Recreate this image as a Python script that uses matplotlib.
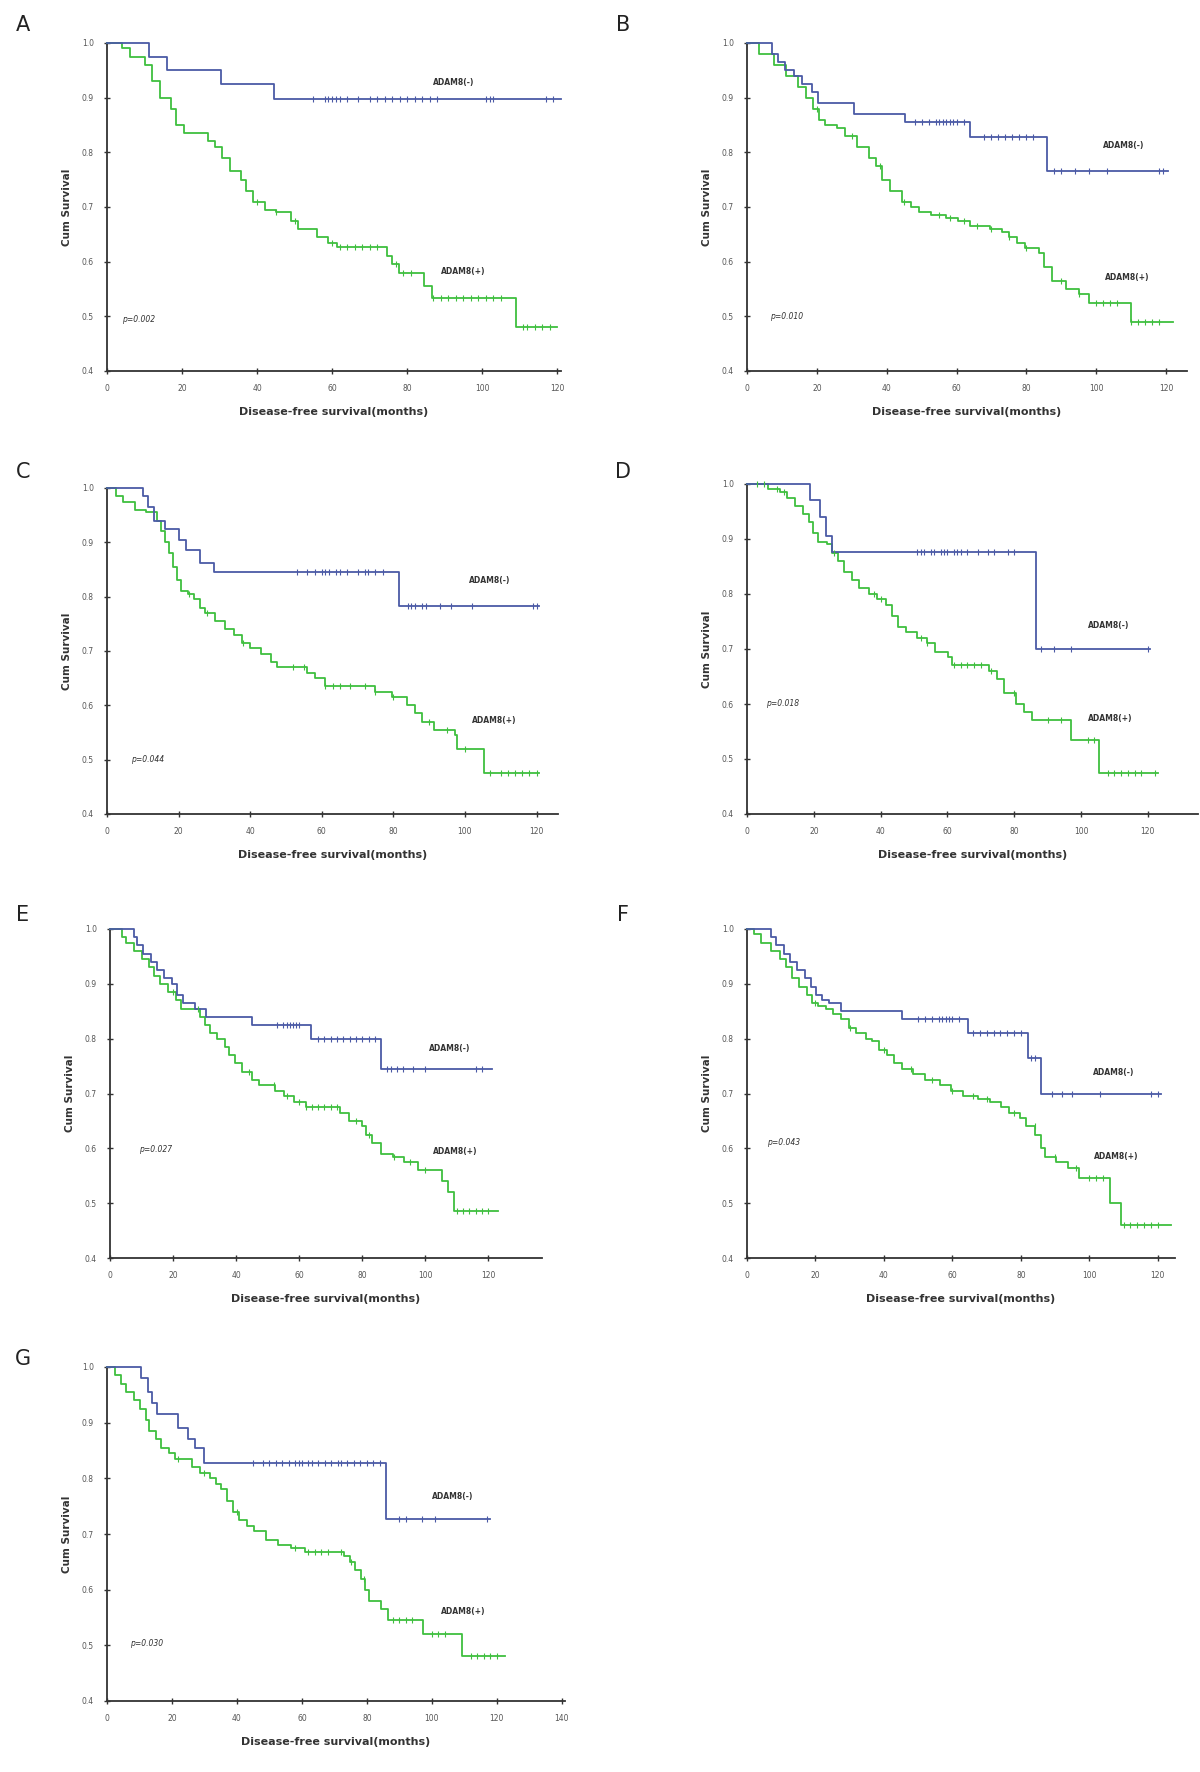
import numpy as np
import matplotlib
matplotlib.use('Agg')
import matplotlib.pyplot as plt

# ---------------- data ----------------
# ADAM8(-) = neg (blue), ADAM8(+) = pos (green); step times in months, survival after step
A_neg_t = [11.3, 16, 30.4, 44.6]
A_neg_s = [0.975, 0.95, 0.925, 0.897]
A_neg_end = 121
A_neg_c = [55, 58, 59, 60, 61, 62, 64, 67, 70, 72, 74, 76, 78, 80, 82, 84, 86, 88, 101, 102, 103, 117, 119]
A_pos_t = [4, 6, 10, 12, 14, 17, 18.4, 20.5, 27, 28.7, 30.7, 32.8, 35.8, 37, 39, 42, 45, 49, 51, 56,
           59, 61.4, 74.7, 76, 77.8, 84.4, 86.5, 109]
A_pos_s = [0.99, 0.975, 0.96, 0.93, 0.9, 0.88, 0.85, 0.835, 0.82, 0.81, 0.79, 0.765, 0.75, 0.73, 0.71,
           0.695, 0.69, 0.675, 0.66, 0.645, 0.635, 0.627, 0.61, 0.595, 0.58, 0.555, 0.533, 0.48]
A_pos_end = 120
A_pos_c = [40, 45, 50, 60, 62, 64, 66, 68, 70, 72, 77, 79, 81, 87, 89, 91, 93, 95, 97, 99, 101, 103,
           105, 111, 112, 114, 116, 118]

B_neg_t = [7.3, 9, 11, 13.5, 15.7, 18.5, 20.2, 30.5, 45.2, 64, 86]
B_neg_s = [0.98, 0.965, 0.95, 0.94, 0.925, 0.91, 0.89, 0.87, 0.855, 0.828, 0.765]
B_neg_end = 120.5
B_neg_c = [48, 50, 52, 54, 55, 56, 57, 58, 59, 60, 62, 68, 70, 72, 74, 76, 78, 80, 82, 88, 90, 94, 98,
           103, 118, 119]
B_pos_t = [3.4, 7.8, 11.2, 14.6, 16.8, 19, 20.7, 22.4, 25.8, 28, 31.4, 34.8, 37, 38.7, 41, 44.3, 47,
           49.3, 52.7, 57, 60.5, 64, 69.5, 73, 75, 77.4, 79.6, 83.5, 85, 87.4, 91.4, 95, 98, 109.9]
B_pos_s = [0.98, 0.96, 0.94, 0.92, 0.9, 0.88, 0.86, 0.85, 0.845, 0.83, 0.81, 0.79, 0.775, 0.75, 0.73,
           0.71, 0.70, 0.69, 0.685, 0.68, 0.675, 0.665, 0.66, 0.655, 0.645, 0.635, 0.625, 0.615, 0.59,
           0.565, 0.55, 0.54, 0.525, 0.49]
B_pos_end = 122
B_pos_c = [20, 30, 38, 45, 55, 58, 62, 66, 70, 75, 80, 90, 95, 100, 102, 104, 106, 110, 112, 114, 116, 118]

C_neg_t = [10, 11.5, 13, 16.3, 20, 22, 26, 30, 81.7]
C_neg_s = [0.985, 0.965, 0.94, 0.925, 0.905, 0.885, 0.862, 0.845, 0.783]
C_neg_end = 120.8
C_neg_c = [53, 56, 58, 60, 61, 62, 64, 65, 67, 70, 72, 73, 75, 77, 84, 85, 86, 88, 89, 93, 96, 102, 119, 120]
C_pos_t = [2.4, 4.5, 7.7, 11, 14, 15.2, 16.3, 17.4, 18.4, 19.5, 20.6, 22.7, 24.3, 26, 27.5, 30.2, 33,
           35.6, 37.7, 40, 43, 45.8, 47.4, 56, 58, 60.8, 75, 79.5, 83.8, 86, 88, 91.3, 97.2, 97.7, 105.2]
C_pos_s = [0.985, 0.975, 0.96, 0.955, 0.94, 0.92, 0.9, 0.88, 0.855, 0.83, 0.81, 0.805, 0.795, 0.78,
           0.77, 0.755, 0.74, 0.73, 0.715, 0.705, 0.695, 0.68, 0.67, 0.66, 0.65, 0.635, 0.625, 0.615,
           0.6, 0.585, 0.57, 0.555, 0.545, 0.52, 0.475]
C_pos_end = 120.8
C_pos_c = [23, 28, 38, 52, 55, 61, 63, 65, 68, 72, 75, 80, 90, 95, 100, 107, 110, 112, 114, 116, 118, 120]

D_neg_t = [18.9, 22, 23.5, 25.5, 86.4]
D_neg_s = [0.97, 0.94, 0.905, 0.876, 0.70]
D_neg_end = 120.6
D_neg_c = [51, 52, 53, 55, 56, 58, 59, 60, 62, 63, 64, 66, 69, 72, 74, 78, 80, 88, 92, 97, 120]
D_pos_t = [6.4, 10, 12, 14.5, 16.8, 18.5, 19.7, 21.4, 23.8, 25.5, 27.2, 29, 31.3, 33.6, 36.5, 38.8,
           41.7, 43.5, 45.2, 47.5, 51, 54, 56.2, 60.3, 61.4, 72.5, 74.8, 77, 80.6, 83, 85.2, 97, 105.5]
D_pos_s = [0.99, 0.985, 0.975, 0.96, 0.945, 0.93, 0.91, 0.895, 0.89, 0.875, 0.86, 0.84, 0.825, 0.81,
           0.8, 0.79, 0.78, 0.76, 0.74, 0.73, 0.72, 0.71, 0.695, 0.685, 0.67, 0.66, 0.645, 0.62, 0.6,
           0.585, 0.57, 0.535, 0.475]
D_pos_end = 122.9
D_pos_c = [3, 5, 9, 11, 26, 38, 40, 52, 54, 62, 64, 66, 68, 70, 73, 80, 90, 94, 102, 104, 108, 110,
           112, 114, 116, 118, 122]

E_neg_t = [7.5, 8.7, 10.5, 13, 14.8, 17.2, 19.6, 21.4, 23.2, 26.8, 30.5, 45, 63.7, 86]
E_neg_s = [0.985, 0.97, 0.955, 0.94, 0.925, 0.91, 0.9, 0.88, 0.865, 0.855, 0.84, 0.825, 0.8, 0.745]
E_neg_end = 121
E_neg_c = [53, 55, 56, 57, 58, 59, 60, 66, 68, 70, 72, 74, 76, 78, 80, 82, 84, 88, 89, 91, 93, 96,
           100, 116, 118]
E_pos_t = [3.9, 5, 7.5, 10, 12.3, 14, 16, 18.4, 20.8, 22.6, 28.7, 30, 31.7, 34, 36.5, 37.7, 39.5, 42,
           45, 47.4, 52.2, 55.3, 58.3, 62, 72.8, 75.8, 80, 81.3, 83, 86, 89.7, 93.3, 97.6, 105.4, 107.3, 109]
E_pos_s = [0.985, 0.975, 0.96, 0.945, 0.93, 0.915, 0.9, 0.885, 0.87, 0.855, 0.84, 0.825, 0.81, 0.8,
           0.785, 0.77, 0.755, 0.74, 0.725, 0.715, 0.705, 0.695, 0.685, 0.675, 0.665, 0.65, 0.64,
           0.625, 0.61, 0.59, 0.585, 0.575, 0.56, 0.54, 0.52, 0.485]
E_pos_end = 123
E_pos_c = [20, 28, 44, 52, 56, 60, 62, 64, 66, 68, 70, 72, 78, 82, 90, 95, 100, 110, 112, 114, 116, 118, 120]

F_neg_t = [6.9, 8.6, 10.8, 12.5, 14.7, 17, 18.6, 20.2, 22, 24, 27.5, 45.3, 64.4, 82, 85.9]
F_neg_s = [0.985, 0.97, 0.955, 0.94, 0.925, 0.91, 0.895, 0.88, 0.87, 0.865, 0.85, 0.835, 0.81, 0.765, 0.70]
F_neg_end = 121
F_neg_c = [50, 52, 54, 56, 57, 58, 59, 60, 62, 66, 68, 70, 72, 74, 76, 78, 80, 83, 84, 89, 92, 95,
           103, 118, 120]
F_pos_t = [1.9, 4, 7, 9.7, 11.3, 13, 15.2, 17.5, 19.1, 20.8, 23, 25.2, 27.5, 29.7, 31.9, 34.7, 36.4,
           38.6, 40.8, 43, 45.3, 48.6, 52, 56.4, 59.7, 63, 67.5, 70.9, 74.2, 76.4, 79.8, 81.4, 84.2,
           85.9, 87, 90.3, 93.7, 97, 105.9, 109.2]
F_pos_s = [0.99, 0.975, 0.96, 0.945, 0.93, 0.91, 0.895, 0.88, 0.865, 0.86, 0.855, 0.845, 0.835, 0.82,
           0.81, 0.8, 0.795, 0.78, 0.77, 0.755, 0.745, 0.735, 0.725, 0.715, 0.705, 0.695, 0.69, 0.685,
           0.675, 0.665, 0.655, 0.64, 0.625, 0.6, 0.585, 0.575, 0.565, 0.545, 0.5, 0.46]
F_pos_end = 123.7
F_pos_c = [20, 30, 40, 48, 54, 60, 66, 70, 78, 84, 90, 96, 100, 102, 104, 110, 112, 114, 116, 118, 120]

G_neg_t = [10.5, 12.5, 13.7, 15.5, 22, 25, 27, 30, 86]
G_neg_s = [0.98, 0.955, 0.935, 0.915, 0.89, 0.87, 0.855, 0.827, 0.727]
G_neg_end = 118
G_neg_c = [45, 48, 50, 52, 54, 56, 58, 59, 60, 62, 63, 65, 67, 69, 71, 72, 74, 76, 78, 80, 82, 84,
           90, 92, 97, 101, 117]
G_pos_t = [2.4, 4.2, 6, 8.4, 10.2, 12, 13, 15, 16.7, 19, 21, 26.3, 28.7, 31.7, 33.5, 35.2, 37, 38.8,
           40.6, 43, 45.4, 49, 52.6, 56.8, 61, 73, 74.7, 76.5, 78.3, 79.5, 80.6, 84.2, 86.6, 97.4, 109.3]
G_pos_s = [0.985, 0.97, 0.955, 0.94, 0.925, 0.905, 0.885, 0.87, 0.855, 0.845, 0.835, 0.82, 0.81, 0.8,
           0.79, 0.78, 0.76, 0.74, 0.725, 0.715, 0.705, 0.69, 0.68, 0.675, 0.668, 0.66, 0.65, 0.635,
           0.62, 0.6, 0.58, 0.565, 0.545, 0.52, 0.48]
G_pos_end = 122.5
G_pos_c = [22, 30, 40, 58, 62, 64, 66, 68, 72, 75, 79, 88, 90, 92, 94, 100, 102, 104, 112, 114, 116, 118, 120]

letters = ['A', 'B', 'C', 'D', 'E', 'F', 'G']
p_texts = ['p=0.002', 'p=0.010', 'p=0.044', 'p=0.018', 'p=0.027', 'p=0.043', 'p=0.030']
xtick_sets = [list(range(0, 121, 20))] * 6 + [list(range(0, 141, 20))]

# ---------------- layout (pixels of 1200x1772 image) ----------------
W, H = 1200, 1772
# left, right, top, bottom, xmax
boxes = [(107, 561, 43, 371, 121),
         (747, 1187, 43, 371, 126),
         (107, 558, 488, 814, 126),
         (747, 1198, 484, 814, 135),
         (110, 542, 929, 1258, 137),
         (747, 1175, 929, 1258, 125),
         (107, 565, 1367, 1701, 141)]
letter_pos = [(23, 25), (623, 25), (23, 472), (623, 472), (23, 915), (623, 915), (23, 1359)]
# label positions in data coords: (neg x, neg y, pos x, pos y, p x, p y)
label_pos = [(87, 0.927, 89, 0.582, 4, 0.494),
             (102, 0.813, 102.6, 0.571, 6.7, 0.5),
             (101, 0.829, 102, 0.573, 6.6, 0.5),
             (102, 0.742, 102, 0.573, 5.8, 0.6),
             (101, 0.782, 102.4, 0.595, 9.3, 0.598),
             (101, 0.739, 101.4, 0.586, 5.8, 0.61),
             (100, 0.767, 102.7, 0.56, 7, 0.504)]

BLUE = '#4b5aa6'
GREEN = '#3fbf3f'

data = {
    'A': (A_neg_t, A_neg_s, A_neg_end, A_neg_c, A_pos_t, A_pos_s, A_pos_end, A_pos_c),
    'B': (B_neg_t, B_neg_s, B_neg_end, B_neg_c, B_pos_t, B_pos_s, B_pos_end, B_pos_c),
    'C': (C_neg_t, C_neg_s, C_neg_end, C_neg_c, C_pos_t, C_pos_s, C_pos_end, C_pos_c),
    'D': (D_neg_t, D_neg_s, D_neg_end, D_neg_c, D_pos_t, D_pos_s, D_pos_end, D_pos_c),
    'E': (E_neg_t, E_neg_s, E_neg_end, E_neg_c, E_pos_t, E_pos_s, E_pos_end, E_pos_c),
    'F': (F_neg_t, F_neg_s, F_neg_end, F_neg_c, F_pos_t, F_pos_s, F_pos_end, F_pos_c),
    'G': (G_neg_t, G_neg_s, G_neg_end, G_neg_c, G_pos_t, G_pos_s, G_pos_end, G_pos_c),
}


def km(ax, t, s, end, cens, color):
    times = np.array([0] + list(t) + [end])
    surv = np.array([1.0] + list(s) + [s[-1]])
    ax.step(times, surv, where='post', color=color, lw=1.3, clip_on=False, zorder=3)
    idx = np.searchsorted(times, cens, side='right') - 1
    ax.plot(cens, surv[idx], ls='none', marker='|', ms=4, mew=0.8, color=color,
            clip_on=False, zorder=4)


fig = plt.figure(figsize=(W / 100, H / 100), dpi=100)

for i, L in enumerate(letters):
    l, r, t, b, xmax = boxes[i]
    ax = fig.add_axes([l / W, 1 - b / H, (r - l) / W, (b - t) / H])
    nt, ns, ne, nc, pt, ps, pe, pc = data[L]
    km(ax, pt, ps, pe, pc, GREEN)
    km(ax, nt, ns, ne, nc, BLUE)

    ax.set_xlim(0, xmax)
    ax.set_ylim(0.4, 1.0)
    ax.set_xticks(xtick_sets[i])
    ax.set_yticks([0.4, 0.5, 0.6, 0.7, 0.8, 0.9, 1.0])
    ax.set_yticklabels(['0.4', '0.5', '0.6', '0.7', '0.8', '0.9', '1.0'])
    for sp in ['top', 'right']:
        ax.spines[sp].set_visible(False)
    for sp in ['left', 'bottom']:
        ax.spines[sp].set_color('#333333')
        ax.spines[sp].set_linewidth(1.3)
    ax.tick_params(direction='inout', length=5, width=1.0, colors='#333333',
                   labelsize=5.5, labelcolor='#555555', pad=7)
    ax.set_ylabel('Cum Survival', fontsize=7.5, fontweight='bold', color='#333333', labelpad=7)
    ax.set_xlabel('Disease-free survival(months)', fontsize=8, fontweight='bold',
                  color='#333333', labelpad=10)

    nx, ny, px_, py, qx, qy = label_pos[i]
    ax.text(nx, ny, 'ADAM8(-)', fontsize=5.5, fontweight='bold', color='#333333', va='center')
    ax.text(px_, py, 'ADAM8(+)', fontsize=5.5, fontweight='bold', color='#333333', va='center')
    ax.text(qx, qy, p_texts[i], fontsize=5.5, style='italic', color='#333333', va='center')

    lx, ly = letter_pos[i]
    fig.text(lx / W, 1 - ly / H, L, fontsize=15, color='#222222', va='center', ha='center')

fig.savefig('out.png', dpi=100, facecolor='white')
